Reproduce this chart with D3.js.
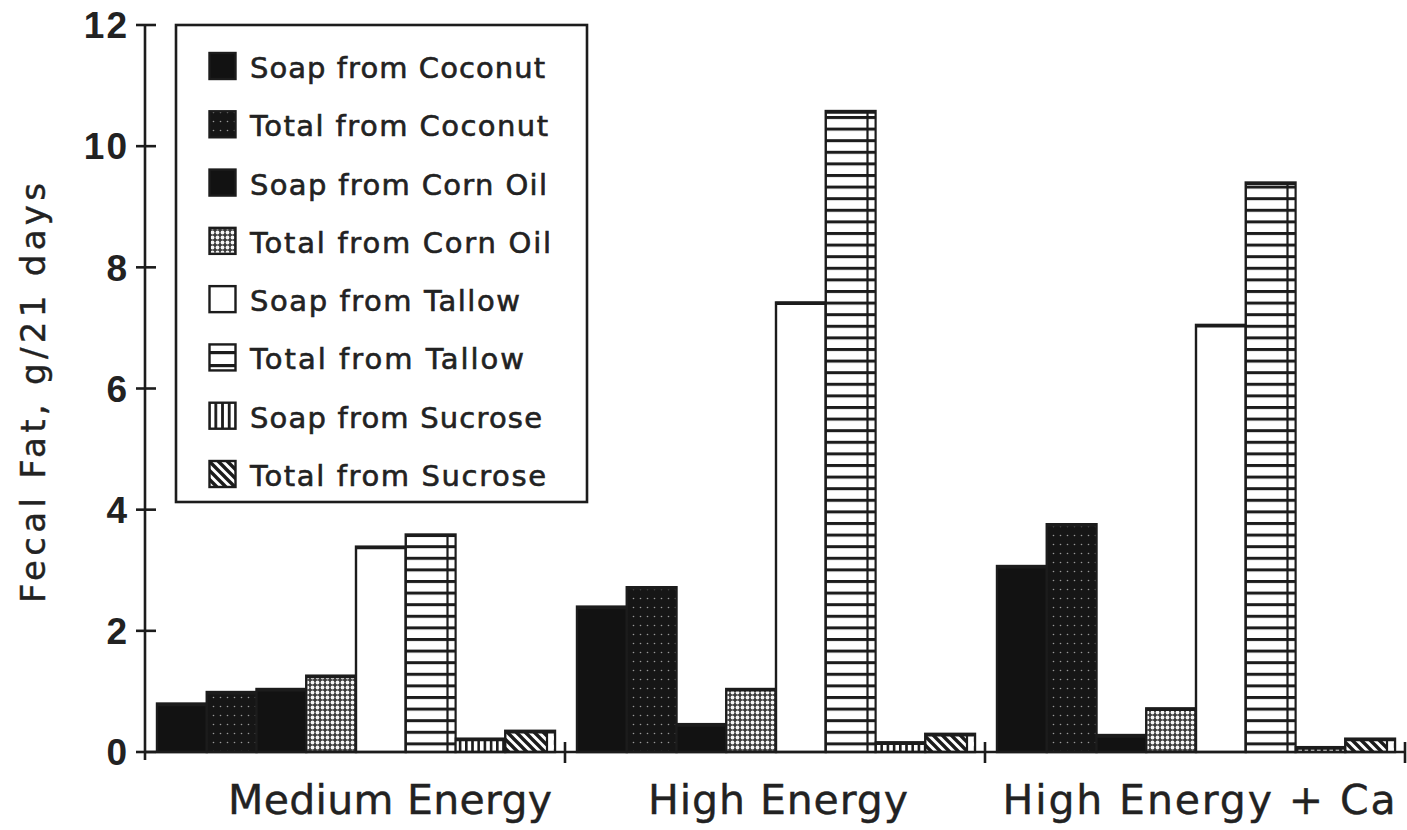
<!DOCTYPE html>
<html>
<head>
<meta charset="utf-8">
<script src="https://cdn.jsdelivr.net/npm/d3@7"></script>
<style>
  html, body { margin: 0; padding: 0; background: #fff; }
  svg { display: block; }
</style>
</head>
<body>
<svg id="chart" width="1407" height="830"></svg>
<script>
// ---- data ----
const groups = ["Medium Energy", "High Energy", "High Energy + Ca"];
const series = [
  "Soap from Coconut", "Total from Coconut",
  "Soap from Corn Oil", "Total from Corn Oil",
  "Soap from Tallow", "Total from Tallow",
  "Soap from Sucrose", "Total from Sucrose"
];
const mediumEnergy = [0.80, 0.99, 1.04, 1.26, 3.39, 3.59, 0.22, 0.35];
const highEnergy   = [2.40, 2.72, 0.46, 1.04, 7.42, 10.58, 0.16, 0.30];
const highEnergyCa = [3.07, 3.76, 0.28, 0.72, 7.05, 9.40, 0.08, 0.22];
const yTicks = [0, 2, 4, 6, 8, 10, 12];
const yLabel = "Fecal Fat, g/21 days";

const values = [mediumEnergy, highEnergy, highEnergyCa];
const rows = [];
groups.forEach((g, gi) => series.forEach((s, si) => rows.push({ group: g, series: s, si, value: values[gi][si] })));

// ---- layout ----
const svg = d3.select("#chart");
const ink = "#1c1c1c";
const textInk = "#222";
const textFont = "'DejaVu Sans', 'Liberation Sans', sans-serif";
const x0 = d3.scaleBand().domain(groups).range([145, 1405]).paddingInner(0);
const x1 = d3.scaleBand().domain(series).range([12, 410]).padding(0);
const y = d3.scaleLinear().domain([0, 12]).range([752, 25]);

// ---- patterns ----
const defs = svg.append("defs");
function pat(id, w, h, draw) {
  const p = defs.append("pattern").attr("id", id).attr("patternUnits", "userSpaceOnUse")
    .attr("width", w).attr("height", h);
  draw(p);
}
pat("p-totcoco", 7, 9, p => {
  p.append("rect").attr("width", 7).attr("height", 9).attr("fill", "#161616");
  p.append("circle").attr("cx", 3.5).attr("cy", 4.5).attr("r", 0.8).attr("fill", "#999");
});
pat("p-soapcorn", 20, 20, p => {
  p.append("rect").attr("width", 20).attr("height", 20).attr("fill", "#121212");
});
pat("p-totcorn", 5, 5, p => {
  p.append("rect").attr("width", 5).attr("height", 5).attr("fill", "#3a3a3a");
  p.append("circle").attr("cx", 2.5).attr("cy", 2.5).attr("r", 1.9).attr("fill", "#f4f4f4");
});
pat("p-hstripe", 10, 11.6, p => {
  p.append("rect").attr("width", 10).attr("height", 11.6).attr("fill", "#fff");
  p.append("rect").attr("y", 0).attr("width", 10).attr("height", 3).attr("fill", ink);
});
pat("p-vstripe", 6.2, 10, p => {
  p.append("rect").attr("width", 6.2).attr("height", 10).attr("fill", "#fff");
  p.append("rect").attr("x", 0).attr("width", 2.6).attr("height", 10).attr("fill", ink);
});
pat("p-diag", 9, 9, p => {
  p.append("rect").attr("width", 9).attr("height", 9).attr("fill", "#fff");
  p.append("path").attr("d", "M-2,-2 L11,11 M-2,7 L2,11 M7,-2 L11,2")
    .attr("stroke", ink).attr("stroke-width", 3.4);
});
// legend-specific patterns
pat("l-hstripe", 27, 13, p => {
  p.append("rect").attr("width", 27).attr("height", 13).attr("fill", "#fff");
  p.append("rect").attr("y", 0).attr("width", 27).attr("height", 3.2).attr("fill", ink);
});
pat("l-vstripe", 6.7, 26, p => {
  p.append("rect").attr("width", 6.7).attr("height", 26).attr("fill", "#fff");
  p.append("rect").attr("x", 0).attr("width", 2.8).attr("height", 26).attr("fill", ink);
});

const fills = ["#121212", "url(#p-totcoco)", "url(#p-soapcorn)", "url(#p-totcorn)",
               "#ffffff", "url(#p-hstripe)", "url(#p-vstripe)", "url(#p-diag)"];
const legendFills = ["#121212", "url(#p-totcoco)", "url(#p-soapcorn)", "url(#p-totcorn)",
               "#ffffff", "url(#l-hstripe)", "url(#l-vstripe)", "url(#p-diag)"];

// ---- bars ----
const bars = svg.append("g");
bars.selectAll("rect.bar").data(rows).join("rect")
  .attr("class", "bar")
  .attr("x", d => x0(d.group) + x1(d.series))
  .attr("y", d => y(d.value))
  .attr("width", x1.bandwidth())
  .attr("height", d => y(0) - y(d.value))
  .attr("fill", d => fills[d.si])
  .attr("stroke", ink)
  .attr("stroke-width", 2.4);

// depth strip on the patterned totals
const depth = rows.filter(d => d.si === 5 || d.si === 7);
bars.selectAll("rect.depthfill").data(depth).join("rect")
  .attr("class", "depthfill")
  .attr("x", d => x0(d.group) + x1(d.series) + x1.bandwidth() - 7)
  .attr("y", d => y(d.value) + 1.5)
  .attr("width", 5.8)
  .attr("height", d => Math.max(0, y(0) - y(d.value) - 2.5))
  .attr("fill", d => d.si === 5 ? "url(#p-hstripe)" : "#fff");
bars.selectAll("line.depth").data(depth).join("line")
  .attr("class", "depth")
  .attr("x1", d => x0(d.group) + x1(d.series) + x1.bandwidth() - 8)
  .attr("x2", d => x0(d.group) + x1(d.series) + x1.bandwidth() - 8)
  .attr("y1", d => y(d.value))
  .attr("y2", y(0))
  .attr("stroke", ink).attr("stroke-width", 2.2);
// thick tops
bars.selectAll("line.top").data(rows).join("line")
  .attr("class", "top")
  .attr("x1", d => x0(d.group) + x1(d.series))
  .attr("x2", d => x0(d.group) + x1(d.series) + x1.bandwidth())
  .attr("y1", d => y(d.value) + 1)
  .attr("y2", d => y(d.value) + 1)
  .attr("stroke", ink).attr("stroke-width", 3.2);

// ---- axes ----
const axes = svg.append("g").attr("stroke", ink).attr("stroke-width", 2.6);
axes.append("line").attr("x1", 145).attr("x2", 145).attr("y1", y(12)).attr("y2", y(0) + 8);
axes.append("line").attr("x1", 145).attr("x2", 1405).attr("y1", y(0)).attr("y2", y(0));
axes.selectAll("line.yt").data(yTicks).join("line").attr("class", "yt")
  .attr("x1", 136).attr("x2", 156).attr("y1", d => y(d)).attr("y2", d => y(d));
const bounds = groups.map(g => x0(g) + x0.bandwidth());
axes.selectAll("line.xt").data(bounds).join("line").attr("class", "xt")
  .attr("x1", d => d).attr("x2", d => d).attr("y1", y(0) - 10).attr("y2", y(0) + 11);

svg.append("g").selectAll("text").data(yTicks).join("text")
  .attr("x", 129).attr("y", d => y(d)).attr("dy", "0.36em")
  .attr("text-anchor", "end")
  .attr("font-family", "'Liberation Sans', Arial, sans-serif")
  .attr("font-weight", "bold").attr("font-size", 37).attr("letter-spacing", 2)
  .attr("fill", textInk).text(d => d);

// y title
svg.append("text")
  .attr("transform", "translate(45,393) rotate(-90)")
  .attr("text-anchor", "middle")
  .attr("font-family", textFont)
  .attr("font-size", 34).attr("fill", textInk)
  .attr("stroke", textInk).attr("stroke-width", 0.4)
  .attr("textLength", 420).attr("lengthAdjust", "spacing")
  .text(yLabel);

// x category labels
const labelShift = [35, 3, 4];
const labelWidth = [324, 260, 393];
svg.append("g").selectAll("text").data(groups).join("text")
  .attr("x", (d, i) => x0(d) + x0.bandwidth() / 2 + labelShift[i])
  .attr("y", 814)
  .attr("text-anchor", "middle")
  .attr("font-family", textFont)
  .attr("font-size", 41).attr("fill", textInk)
  .attr("stroke", textInk).attr("stroke-width", 0.4)
  .attr("textLength", (d, i) => labelWidth[i]).attr("lengthAdjust", "spacing")
  .text(d => d);

// ---- legend ----
const leg = svg.append("g");
leg.append("rect").attr("x", 176).attr("y", 25).attr("width", 411).attr("height", 477)
  .attr("fill", "#fff").attr("stroke", ink).attr("stroke-width", 2.6);
const ly = d3.scaleLinear().domain([0, 7]).range([66, 474]);
const legWidth = [295, 298, 297, 301, 270, 274, 292, 296];
const items = leg.selectAll("g.item").data(series).join("g").attr("class", "item");
items.append("rect")
  .attr("x", 209.5).attr("y", (d, i) => ly(i) - 13)
  .attr("width", 26).attr("height", 26)
  .attr("fill", (d, i) => legendFills[i])
  .attr("stroke", ink).attr("stroke-width", 2.4);
items.append("text")
  .attr("x", 250).attr("y", (d, i) => ly(i) + 12)
  .attr("font-family", textFont)
  .attr("font-size", 29).attr("fill", textInk)
  .attr("stroke", textInk).attr("stroke-width", 0.6)
  .attr("textLength", (d, i) => legWidth[i]).attr("lengthAdjust", "spacing")
  .text(d => d);
</script>
</body>
</html>
